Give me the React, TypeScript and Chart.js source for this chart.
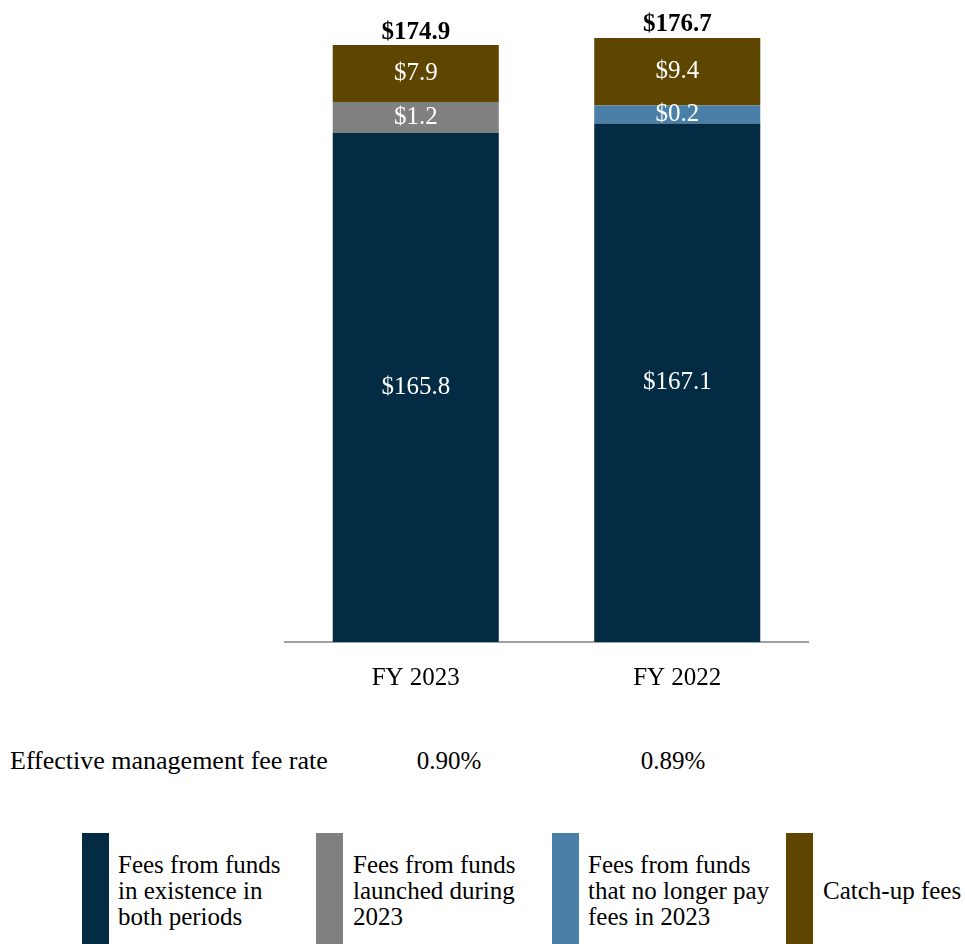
import React, { useEffect, useRef } from "react";
import { Chart, registerables } from "chart.js";

Chart.register(...registerables);

const categories = ["FY 2023", "FY 2022"];
const existingFees = [165.8, 167.1];
const launchedFees = [1.2, null];
const noLongerPayFees = [null, 0.2];
const catchUpFees = [7.9, 9.4];
const feeRateLabel = "Effective management fee rate";
const feeRates = ["0.90%", "0.89%"];
const legendLabels = [
  ["Fees from funds", "in existence in", "both periods"],
  ["Fees from funds", "launched during", "2023"],
  ["Fees from funds", "that no longer pay", "fees in 2023"],
  ["Catch-up fees"],
];

const COLORS = ["#032b44", "#808080", "#4a80a8", "#5e4500"];
const FONT = "'Liberation Serif', 'Times New Roman', serif";

const fmt = (v: number) => "$" + v.toFixed(1);

const labelPlugin = {
  id: "segmentLabels",
  afterDatasetsDraw(chart: any) {
    const ctx = chart.ctx;
    const area = chart.chartArea;
    ctx.save();
    ctx.textAlign = "center";
    ctx.textBaseline = "middle";
    const n = chart.data.labels.length;
    const tops: { x: number; y: number; total: number }[] = [];
    for (let i = 0; i < n; i++) tops.push({ x: 0, y: Infinity, total: 0 });
    chart.data.datasets.forEach((ds: any, di: number) => {
      const meta = chart.getDatasetMeta(di);
      meta.data.forEach((el: any, i: number) => {
        const v = ds.data[i];
        if (v === null || v === undefined) return;
        tops[i].total += v;
        tops[i].x = el.x;
        tops[i].y = Math.min(tops[i].y, el.y);
        const bottom = Math.min(el.base, area.bottom);
        ctx.font = `25px ${FONT}`;
        ctx.fillStyle = "#ffffff";
        ctx.fillText(fmt(v), el.x, (el.y + bottom) / 2);
      });
    });
    tops.forEach((t) => {
      ctx.font = `bold 25px ${FONT}`;
      ctx.fillStyle = "#000000";
      ctx.fillText(fmt(t.total), t.x, t.y - 13);
    });
    ctx.restore();
  },
};

export default function App() {
  const ref = useRef<HTMLCanvasElement>(null);
  useEffect(() => {
    document.body.style.margin = "0";
    const chart = new Chart(ref.current!, {
      type: "bar",
      data: {
        labels: categories,
        datasets: [
          { label: legendLabels[0].join(" "), data: existingFees, backgroundColor: COLORS[0] },
          { label: legendLabels[1].join(" "), data: launchedFees, backgroundColor: COLORS[1], minBarLength: 31 },
          { label: legendLabels[2].join(" "), data: noLongerPayFees, backgroundColor: COLORS[2], minBarLength: 18 },
          { label: legendLabels[3].join(" "), data: catchUpFees, backgroundColor: COLORS[3] },
        ] as any,
      },
      options: {
        responsive: false,
        animation: false,
        layout: { padding: { left: 285, right: 157, top: 0, bottom: 0 } },
        datasets: { bar: { categoryPercentage: 1, barPercentage: 0.635 } } as any,
        plugins: { legend: { display: false }, tooltip: { enabled: false } },
        scales: {
          x: {
            stacked: true,
            grid: { display: false },
            border: { display: true, color: "#a0a0a0", width: 2 },
            ticks: { color: "#000", font: { family: FONT, size: 25 }, padding: 13 },
            afterFit: (s: any) => {
              s.height = 60;
            },
          },
          y: { stacked: true, display: false, min: 95.1, max: 184.27 },
        },
      },
      plugins: [labelPlugin],
    });
    return () => chart.destroy();
  }, []);

  const swatchX = [82, 316, 552, 786];
  const textX = [118, 353, 588, 823];
  const rateX = [449, 673];

  return (
    <div style={{ position: "relative", width: 965, height: 944, overflow: "hidden", fontFamily: FONT, color: "#000" }}>
      <canvas ref={ref} width={965} height={702} style={{ position: "absolute", left: 0, top: 0 }} />
      <div style={{ position: "absolute", left: 10, top: 761, transform: "translateY(-50%)", fontSize: 26, whiteSpace: "nowrap" }}>
        {feeRateLabel}
      </div>
      {feeRates.map((r, i) => (
        <div key={r} style={{ position: "absolute", left: rateX[i], top: 761, transform: "translate(-50%,-50%)", fontSize: 25, whiteSpace: "nowrap" }}>
          {r}
        </div>
      ))}
      {legendLabels.map((lines, i) => (
        <React.Fragment key={i}>
          <div style={{ position: "absolute", left: swatchX[i], top: 833, width: 27, height: 116, background: COLORS[i] }} />
          <div style={{ position: "absolute", left: textX[i], top: 891, transform: "translateY(-50%)", fontSize: 25, lineHeight: "26px", whiteSpace: "nowrap" }}>
            {lines.map((l, j) => (
              <div key={j}>{l}</div>
            ))}
          </div>
        </React.Fragment>
      ))}
    </div>
  );
}
